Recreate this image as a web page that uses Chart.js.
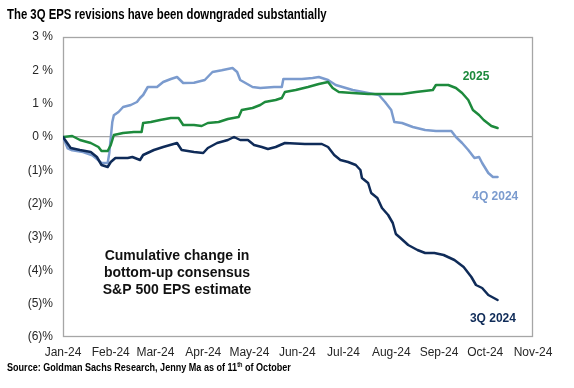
<!DOCTYPE html>
<html>
<head>
<meta charset="utf-8">
<script src="https://cdn.jsdelivr.net/npm/chart.js@4.4.1/dist/chart.umd.min.js"></script>
<style>
  html, body { margin: 0; padding: 0; background: #fff; }
  #wrap { position: relative; width: 574px; height: 388px; overflow: hidden; }
  #chart { position: absolute; left: 0; top: 0; }
  .title { position: absolute; left: 7px; top: 6px; font: bold 14px "Liberation Sans", Arial, sans-serif; color: #000; white-space: nowrap; transform-origin: 0 0; }
  .source { position: absolute; left: 7px; top: 361px; font: bold 10.5px "Liberation Sans", Arial, sans-serif; color: #000; white-space: nowrap; transform-origin: 0 0; }
  .source sup { font-size: 6.5px; vertical-align: 4px; }
</style>
</head>
<body>
<div id="wrap">
  <canvas id="chart" width="574" height="388"></canvas>
  <div class="title" id="title">The 3Q EPS revisions have been downgraded substantially</div>
  <div class="source" id="source">Source: Goldman Sachs Research, Jenny Ma as of 11<sup>th</sup> of October</div>
</div>
<script>
// day offsets from 1 Jan 2024
const monthTicks = [0, 31, 60, 91, 121, 152, 182, 213, 244, 274, 305];
const monthLabels = ['Jan-24', 'Feb-24', 'Mar-24', 'Apr-24', 'May-24', 'Jun-24',
  'Jul-24', 'Aug-24', 'Sep-24', 'Oct-24', 'Nov-24'];

const q3Days = [0, 5, 11, 18, 22, 25, 29, 31, 34, 42, 45, 50, 52, 59, 65, 74, 77, 85, 91, 94,
  100, 107, 111, 115, 120, 124, 129, 133, 138, 144, 157, 168, 172, 176, 180, 185, 190, 193, 194, 198,
  200, 204, 207, 211, 214, 216, 219, 224, 230, 235, 241, 247, 254, 260, 265, 268, 272, 276, 282];
const q3Values = [0, -0.33, -0.39, -0.45, -0.6, -0.84, -0.9, -0.75, -0.63, -0.63, -0.6, -0.69, -0.54, -0.39, -0.3, -0.18, -0.39, -0.45, -0.48, -0.33,
  -0.18, -0.09, 0, -0.09, -0.09, -0.24, -0.3, -0.36, -0.3, -0.18, -0.21, -0.21, -0.3, -0.54, -0.69, -0.75, -0.84, -0.99, -1.23, -1.38,
  -1.68, -1.83, -2.13, -2.34, -2.58, -2.91, -3.03, -3.24, -3.39, -3.48, -3.48, -3.54, -3.69, -3.9, -4.2, -4.44, -4.53, -4.74, -4.89];

const q4Days = [0, 3, 6, 13, 19, 23, 25, 29, 30, 32, 33, 36, 39, 44, 48, 50, 52, 55, 61, 65,
  70, 74, 78, 85, 92, 97, 103, 110, 113, 115, 123, 128, 137, 142, 143, 155, 162, 166, 172, 177,
  188, 198, 205, 209, 213, 215, 220, 227, 235, 242, 252, 255, 259, 263, 267, 270, 272, 276, 279, 282];
const q4Values = [0, -0.34, -0.4, -0.45, -0.55, -0.7, -0.78, -0.78, -0.5, 0.45, 0.65, 0.75, 0.9, 0.96, 1.05, 1.17, 1.26, 1.5, 1.5, 1.65,
  1.74, 1.8, 1.62, 1.63, 1.71, 1.95, 2.0, 2.07, 1.95, 1.71, 1.5, 1.47, 1.5, 1.5, 1.74, 1.74, 1.77, 1.8, 1.71, 1.56,
  1.41, 1.32, 1.26, 1.05, 0.81, 0.45, 0.42, 0.3, 0.21, 0.18, 0.18, 0.0, -0.18, -0.39, -0.63, -0.6, -0.78, -1.08, -1.2, -1.2];

const y25Days = [0, 6, 11, 18, 23, 25, 29, 31, 33, 39, 46, 51, 52, 57, 63, 70, 75, 78, 85, 90,
  94, 101, 107, 114, 116, 123, 128, 131, 138, 142, 144, 151, 159, 166, 172, 175, 179, 188, 198, 209,
  220, 229, 240, 242, 250, 255, 259, 263, 266, 270, 273, 278, 282];
const y25Values = [0, 0.03, -0.09, -0.18, -0.3, -0.42, -0.42, -0.24, 0.06, 0.12, 0.15, 0.15, 0.42, 0.45, 0.51, 0.57, 0.57, 0.36, 0.36, 0.33,
  0.42, 0.45, 0.54, 0.6, 0.81, 0.87, 0.96, 1.05, 1.11, 1.17, 1.35, 1.41, 1.5, 1.59, 1.65, 1.47, 1.35, 1.32, 1.29, 1.29,
  1.29, 1.35, 1.41, 1.56, 1.56, 1.47, 1.32, 1.11, 0.81, 0.66, 0.51, 0.33, 0.27];

const NAVY = '#0f2b58';
const LIGHT = '#7b9bce';
const GREEN = '#1d8a3c';
const FRAME = '#a6a6a6';
const FONT = '"Liberation Sans", Arial, sans-serif';

const labels = [
  {text: '2025', color: GREEN, day: 268, value: 1.8, size: 12},
  {text: '4Q 2024', color: LIGHT, day: 280.5, value: -1.8, size: 12},
  {text: '3Q 2024', color: NAVY, day: 279, value: -5.46, size: 12},
  {text: 'Cumulative change in', color: '#111', day: 74, value: -3.57, size: 14},
  {text: 'bottom-up consensus', color: '#111', day: 74, value: -4.08, size: 14},
  {text: 'S&P 500 EPS estimate', color: '#111', day: 74, value: -4.59, size: 14},
];

const toPoints = (days, values) => days.map((d, i) => ({x: d, y: values[i]}));

// box around the plot area
const framePlugin = {
  id: 'frame',
  beforeDatasetsDraw(chart) {
    const {ctx, chartArea: a} = chart;
    ctx.save();
    ctx.strokeStyle = FRAME;
    ctx.lineWidth = 1.3;
    ctx.strokeRect(a.left + 0.5, a.top + 0.5, a.right - a.left - 1, a.bottom - a.top - 1);
    ctx.restore();
  }
};

const labelPlugin = {
  id: 'seriesLabels',
  afterDatasetsDraw(chart) {
    const {ctx, scales} = chart;
    ctx.save();
    ctx.textAlign = 'center';
    ctx.textBaseline = 'middle';
    labels.forEach(l => {
      ctx.font = 'bold ' + l.size + 'px ' + FONT;
      ctx.fillStyle = l.color;
      ctx.fillText(l.text, scales.x.getPixelForValue(l.day), scales.y.getPixelForValue(l.value));
    });
    ctx.restore();
  }
};

const tickFont = {family: FONT, size: 12};

new Chart(document.getElementById('chart'), {
  type: 'line',
  data: {
    datasets: [
      {label: '3Q 2024', data: toPoints(q3Days, q3Values), borderColor: NAVY},
      {label: '2025', data: toPoints(y25Days, y25Values), borderColor: GREEN},
      {label: '4Q 2024', data: toPoints(q4Days, q4Values), borderColor: LIGHT},
    ]
  },
  options: {
    responsive: false,
    animation: false,
    layout: {padding: {left: 0, top: 37, right: 41, bottom: 0}},
    elements: {
      point: {radius: 0},
      line: {borderWidth: 2.5, tension: 0, borderJoinStyle: 'round', borderCapStyle: 'round'}
    },
    plugins: {legend: {display: false}, tooltip: {enabled: false}},
    scales: {
      x: {
        type: 'linear', min: 0, max: 305,
        afterBuildTicks: s => { s.ticks = monthTicks.map(v => ({value: v})); },
        afterFit: s => { s.height = 51; },
        ticks: {
          autoSkip: false, maxRotation: 0, padding: 8, font: tickFont, color: '#262626',
          callback: v => monthLabels[monthTicks.indexOf(v)]
        },
        grid: {display: false, drawTicks: false},
        border: {display: false}
      },
      y: {
        min: -6, max: 3,
        afterFit: s => { s.width = 63; },
        ticks: {
          stepSize: 1, padding: 10, font: tickFont, color: '#262626',
          callback: v => v < 0 ? '(' + (-v) + ')%' : v + ' %'
        },
        grid: {
          drawTicks: false, lineWidth: 1.3,
          color: c => c.tick && c.tick.value === 0 ? FRAME : 'rgba(0,0,0,0)'
        },
        border: {display: false}
      }
    }
  },
  plugins: [framePlugin, labelPlugin]
});

// squeeze the Calibri-like headings horizontally to the widths they have in the original
function fitWidth(id, target) {
  const el = document.getElementById(id);
  el.style.transform = 'scaleX(' + (target / el.offsetWidth).toFixed(3) + ')';
}
fitWidth('title', 320);
fitWidth('source', 284);
</script>
</body>
</html>
